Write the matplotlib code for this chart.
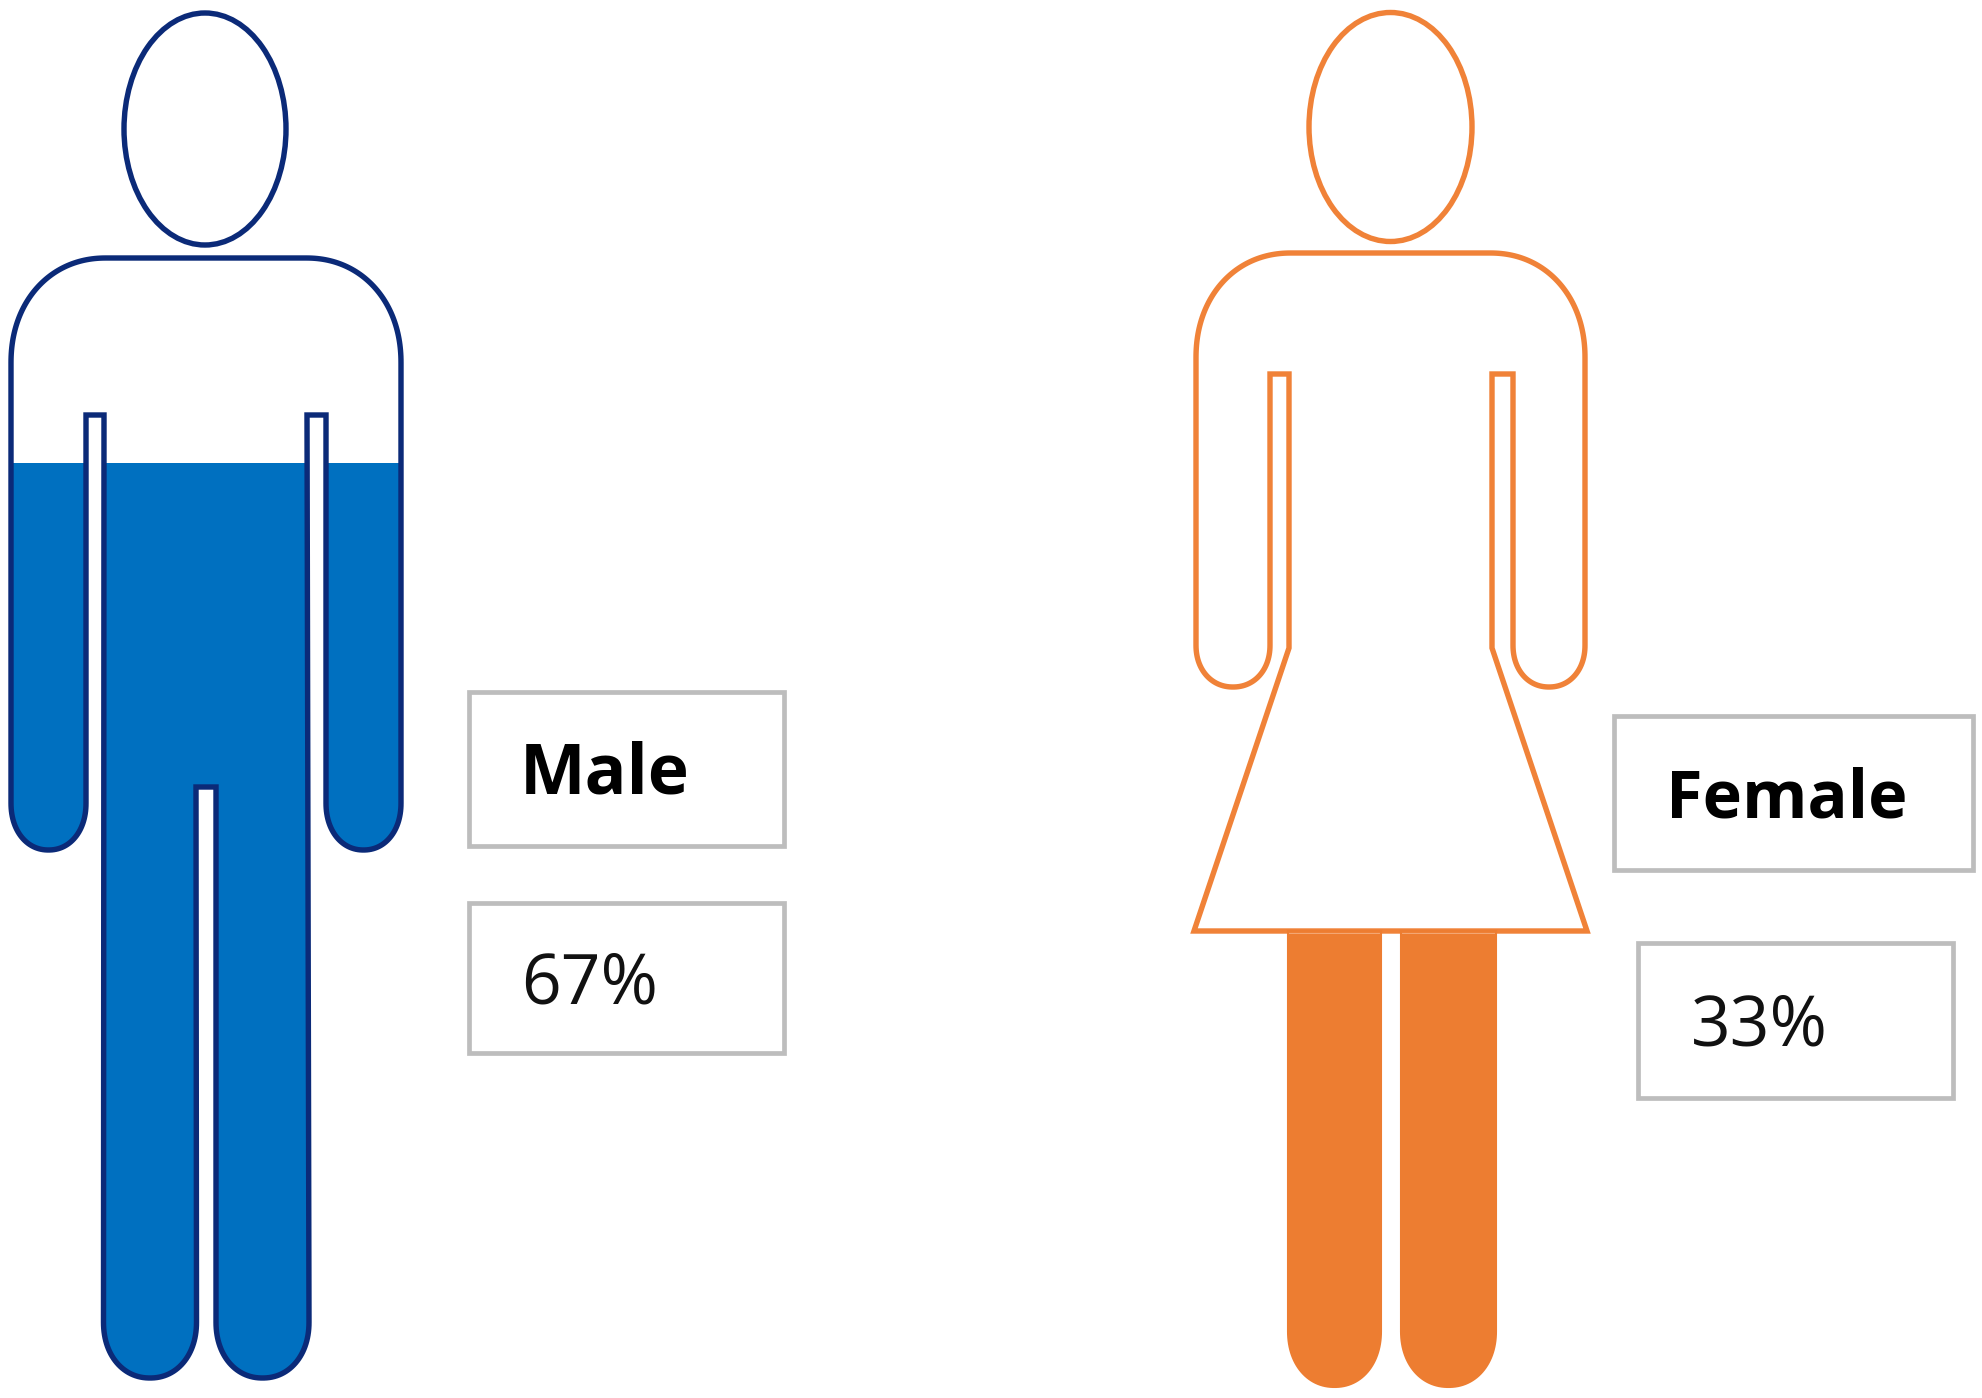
import numpy as np
import matplotlib
matplotlib.use("Agg")
import matplotlib.pyplot as plt
from matplotlib.path import Path
from matplotlib.patches import PathPatch, Ellipse, Rectangle

categories = ["Male", "Female"]
percent_values = [67, 33]
value_labels = ["67%", "33%"]

W, H = 1983, 1398
DARK_BLUE, BLUE = "#0B2A78", "#0070C0"
ORANGE_LINE, ORANGE = "#F08238", "#ED7D31"
BOX = "#BDBDBD"


def arc(cx, cy, rx, ry, a0, a1, n=60, p=2.12):
    t = np.radians(np.linspace(a0, a1, n))
    c, s = np.cos(t), np.sin(t)
    return np.column_stack([cx + rx * np.sign(c) * np.abs(c) ** (2 / p),
                            cy + ry * np.sign(s) * np.abs(s) ** (2 / p)])


def closed(parts):
    v = np.vstack([np.atleast_2d(p) for p in parts])
    v = np.vstack([v, v[0]])
    codes = [Path.MOVETO] + [Path.LINETO] * (len(v) - 2) + [Path.CLOSEPOLY]
    return Path(v, codes)


def male_body():
    return closed([
        arc(106, 363, 95, 105, 180, 270),
        arc(306, 363, 95, 105, 270, 360),
        arc(363.5, 803, 37.5, 47, 0, 180),
        [(326, 415), (307, 415)],
        arc(262.5, 1322, 46.5, 56, 0, 180),
        [(216, 787), (196, 787)],
        arc(150, 1322, 46.5, 56, 0, 180),
        [(104, 415), (86, 415)],
        arc(48.5, 803, 37.5, 47, 0, 180),
    ])


def female_body():
    return closed([
        arc(1291, 358, 95, 105, 180, 270),
        arc(1490, 358, 95, 105, 270, 360),
        arc(1549, 645, 36, 42, 0, 180),
        [(1513, 374), (1492, 374), (1492, 648), (1587, 931),
         (1194, 931), (1289, 648), (1289, 374), (1270, 374)],
        arc(1233, 645, 37, 42, 0, 180),
    ])


def leg(x0, x1, top, bottom, ry):
    r = (x1 - x0) / 2
    return closed([[(x0, top), (x1, top)], arc(x0 + r, bottom - ry, r, ry, 0, 180)])


fig = plt.figure(figsize=(W / 100, H / 100), dpi=100, facecolor="white")
ax = fig.add_axes([0, 0, 1, 1], zorder=3)
ax.set_xlim(0, W)
ax.set_ylim(H, 0)
ax.axis("off")
ax.patch.set_alpha(0)

figures = [
    dict(body=male_body(), legs=[], line=DARK_BLUE, fill=BLUE, head=(205, 129, 162, 232),
         top=13, bottom=1378, x0=0, x1=420, lw=3.9,
         boxes=[(469, 692, 315, 154), (469, 903, 315, 150)],
         name_xy=(520, 794), val_xy=(521, 1004), name_size=50),
    dict(body=female_body(),
         legs=[leg(1288, 1381, 931, 1387, 56), leg(1401, 1496, 931, 1387, 56)],
         line=ORANGE_LINE, fill=ORANGE, head=(1390.5, 127, 163, 229),
         top=13, bottom=1387, x0=1180, x1=1600, lw=3.9,
         boxes=[(1614, 716, 359, 154), (1638, 943, 315, 155)],
         name_xy=(1666, 818), val_xy=(1691, 1046), name_size=48),
]

for f, name, value, label in zip(figures, categories, percent_values, value_labels):
    # fill level: a bar on a 0-100 scale spanning the silhouette's height
    sub = fig.add_axes([f["x0"] / W, 1 - f["bottom"] / H,
                        (f["x1"] - f["x0"]) / W, (f["bottom"] - f["top"]) / H], zorder=1)
    sub.set_xlim(0, 1)
    sub.set_ylim(0, 100)
    sub.axis("off")
    clip = Path.make_compound_path(f["body"], *f["legs"])
    bar = sub.bar(0.5, value, width=1, color=f["fill"], linewidth=0)[0]
    bar.set_clip_path(clip, ax.transData)

    ax.add_patch(PathPatch(f["body"], fc="none", ec=f["line"], lw=f["lw"], joinstyle="miter"))
    for lg in f["legs"]:
        ax.add_patch(PathPatch(lg, fc="none", ec=f["fill"], lw=1.5))
    cx, cy, w, h = f["head"]
    ax.add_patch(Ellipse((cx, cy), w, h, fc="none", ec=f["line"], lw=f["lw"]))
    for b in f["boxes"]:
        ax.add_patch(Rectangle(b[:2], b[2], b[3], fc="white", ec=BOX, lw=3.4))
    ax.text(*f["name_xy"], name, fontsize=f["name_size"], fontweight="bold", family="Open Sans",
            color="black", ha="left", va="baseline")
    ax.text(*f["val_xy"], label, fontsize=50, family="Open Sans",
            color="#111111", ha="left", va="baseline")

fig.savefig("out.png", dpi=100, facecolor="white")
